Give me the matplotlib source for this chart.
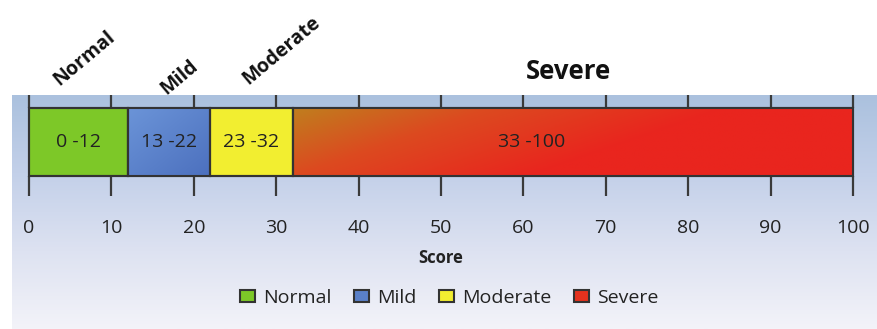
import numpy as np
import matplotlib
matplotlib.use("Agg")
import matplotlib.pyplot as plt
from matplotlib.colors import LinearSegmentedColormap

plt.rcParams['font.family'] = ['Open Sans', 'DejaVu Sans']

# data
categories = ["Normal", "Mild", "Moderate", "Severe"]
range_start = [0, 12, 22, 32]
range_width = [12, 10, 10, 68]
range_text = ["0 -12", "13 -22", "23 -32", "33 -100"]
text_x = [6, 17, 27, 61]
ticks = [0, 10, 20, 30, 40, 50, 60, 70, 80, 90, 100]
colors = ["#7dc828", "#5a80c8", "#f2ee30", "#e4321e"]

W, H = 877, 329
fig = plt.figure(figsize=(W / 100, H / 100), dpi=100)

# gradient panel behind the chart
bg = fig.add_axes([12 / W, 0, (W - 12) / W, 234 / H], zorder=-1)
bg_cmap = LinearSegmentedColormap.from_list("bg", ["#abc1de", "#c3d0e9", "#dde2f1", "#f3f3f9"])
bg.imshow(np.linspace(0, 1, 200).reshape(-1, 1), cmap=bg_cmap, aspect='auto',
          extent=(0, 1, 0, 1))
bg.axis('off')

ax = fig.add_axes([29 / W, 1 - 176 / H, (853 - 29) / W, 68 / H])
ax.patch.set_alpha(0)

bars = ax.barh(0, range_width, left=range_start, height=1, color=colors,
               edgecolor="#333333", linewidth=1.5, zorder=2, clip_on=False)
for b, lab in zip(bars, categories):
    b.set_label(lab)

# gradients on mild and severe bars (row 0 = top)
yy, xx = np.mgrid[0:1:60j, 0:1:300j]
sev_cmap = LinearSegmentedColormap.from_list(
    "sev", [(0, "#c07e1e"), (0.45, "#dc4a20"), (1, "#e9251e")])
t = np.clip(xx / 0.5 * 0.65 + 0.45 * yy, 0, 1)
im = ax.imshow(t, cmap=sev_cmap, aspect='auto', origin='upper', zorder=2.1,
               extent=(range_start[3], range_start[3] + range_width[3], -0.5, 0.5))
im.set_clip_path(bars[3])
mild_cmap = LinearSegmentedColormap.from_list("mild", ["#6b94d8", "#4c70be"])
im2 = ax.imshow(0.5 * xx + 0.5 * yy, cmap=mild_cmap, aspect='auto', origin='upper', zorder=2.1,
                extent=(range_start[1], range_start[1] + range_width[1], -0.5, 0.5))
im2.set_clip_path(bars[1])
ax.barh(0, range_width, left=range_start, height=1, fill=False,
        edgecolor="#333333", linewidth=1.5, zorder=3, clip_on=False)

for x, s in zip(text_x, range_text):
    ax.text(x, 0, s, ha='center', va='center', fontsize=14, color="#222222", zorder=4)

ax.set_xlim(0, 100)
ax.set_ylim(-0.5, 0.5)
ax.set_yticks([])
ax.set_xticks(ticks)
ax.tick_params(axis='x', length=14.4, width=1.6, color="#3a3a3a", pad=16.5,
               labelsize=14, labelcolor="#222222")
for s in ax.spines.values():
    s.set_visible(False)
ax.set_xlabel("Score", fontsize=12, fontweight='bold', labelpad=9, color="#222222")

top = ax.secondary_xaxis('top')
top.set_xticks(ticks)
top.tick_params(axis='x', length=9.4, width=1.6, color="#3a3a3a", labeltop=False)
for s in top.spines.values():
    s.set_visible(False)

# category labels above the bar
label_x = [6.7, 18.3, 30.6]
label_dy = [35.5, 22, 41]
for x, dy, s in zip(label_x, label_dy, categories[:3]):
    ax.annotate(s, xy=(x, 1), xycoords=('data', 'axes fraction'), xytext=(0, dy),
                textcoords='offset points', rotation=40, ha='center', va='center',
                fontsize=14, fontweight='bold', color="#111111")
ax.annotate(categories[3], xy=(65.5, 1), xycoords=('data', 'axes fraction'), xytext=(0, 26),
            textcoords='offset points', ha='center', va='center',
            fontsize=18.5, fontweight='bold', color="#111111")

fig.legend(handles=list(bars), labels=categories, loc='center', ncol=4, frameon=False,
           bbox_to_anchor=(449 / W, 1 - 298 / H), fontsize=14, handlelength=0.8,
           handleheight=0.6, handletextpad=0.4, columnspacing=1.15, labelcolor="#222222")

fig.savefig("out.png", dpi=100)
